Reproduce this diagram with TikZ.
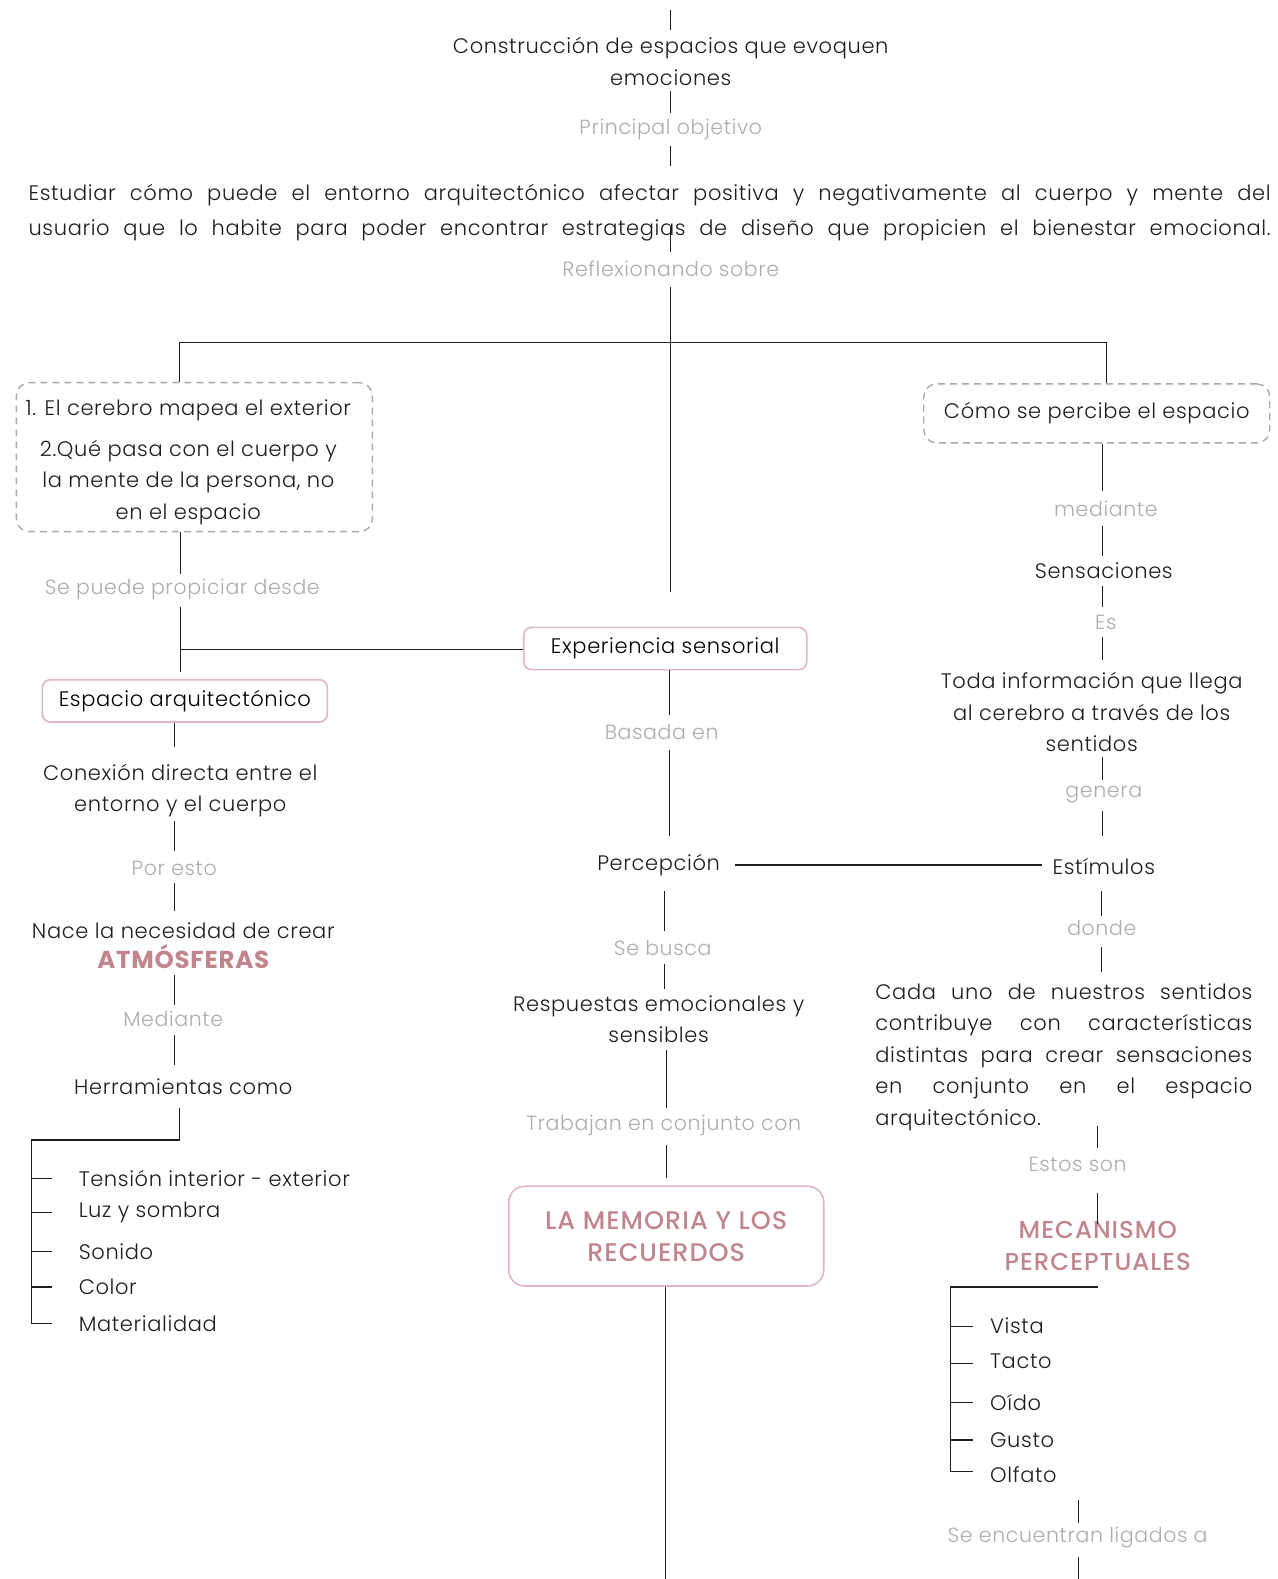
\documentclass[tikz,border=0pt]{standalone}
\usepackage{fontspec}
\IfFontExistsTF{Poppins Light}{\setmainfont{Poppins Light}[LetterSpace=3]}{\setmainfont{Poppins}[LetterSpace=3]}
\newfontfamily\headfont{Poppins}[LetterSpace=3]
\IfFontExistsTF{Poppins Medium}{\newfontfamily\medfont{Poppins Medium}[LetterSpace=4]}{\newfontfamily\medfont{Poppins}[LetterSpace=4]}
\definecolor{pinkt}{HTML}{C0858D}
\definecolor{pinkb}{HTML}{DDB8BD}
\definecolor{lblc}{HTML}{ADADAD}
\definecolor{ink}{HTML}{1E1E1E}
\definecolor{dashc}{HTML}{AAAAAA}
\begin{document}
\begin{tikzpicture}[x=1.0071pt,y=-1.007pt,
  txt/.style={font=\fontsize{21}{31.5}\selectfont, text=ink, align=center, inner sep=2pt},
  lab/.style={font=\fontsize{20.5}{24}\selectfont, text=lblc, inner sep=2pt},
  itm/.style={font=\fontsize{21}{24}\selectfont, text=ink, anchor=west, inner sep=0pt},
  dbox/.style={draw=dashc, dash pattern=on 7pt off 5pt, line width=1.4pt, rounded corners=13pt, align=center, text=ink, font=\fontsize{21}{31.5}\selectfont},
  pbox/.style={draw=pinkb, line width=1.6pt, rounded corners=8pt, align=center, font=\fontsize{21}{31.5}\selectfont},
  ln/.style={draw=ink, line width=1.3pt},
  pinkhead/.style={font=\fontsize{24.5}{31.5}\selectfont\medfont, text=pinkt, align=center}
]
\useasboundingbox[fill=white] (0,0) rectangle (1268,1568);

% ---------- top ----------
\node[txt] (title) at (666,61) {Construcción de espacios que evoquen\\emociones};
\node[lab] (lPrin) at (666,129) {Principal objetivo};
\node[txt,font=\fontsize{21}{35}\selectfont] (para) at (645,211)
  {\makebox[1242pt][s]{Estudiar cómo puede el entorno arquitectónico afectar positiva y negativamente al cuerpo y mente del}\\
   \makebox[1242pt][s]{usuario que lo habite para poder encontrar estrategias de diseño que propicien el bienestar emocional.}};
\node[lab] (lRefl) at (666,267) {Reflexionando sobre};

\coordinate (a0) at (666,10);  \coordinate (a1) at (666,30);
\coordinate (a2) at (666,90);  \coordinate (a3) at (666,112);
\coordinate (a4) at (666,145); \coordinate (a5) at (666,165);
\coordinate (a6) at (666,225); \coordinate (a7) at (666,250);
\coordinate (a8) at (666,285); \coordinate (a9) at (666,588);
\draw[ln] (a0) -- (a1);
\draw[ln] (a2) -- (a3);
\draw[ln] (a4) -- (a5);
\draw[ln] (a6) -- (a7);
\draw[ln] (a8) -- (a9);

% ---------- dashed boxes ----------
\node[dbox, minimum width=356pt, minimum height=149pt] (lbox) at (193,454) {};
\node[txt] (lboxt) at (187,459) {1. El cerebro mapea el exterior\\[9pt]2.Qué pasa con el cuerpo y\\la mente de la persona, no\\en el espacio};
\node[dbox, minimum width=346pt, minimum height=59pt] (rbox) at (1089,410.5) {Cómo se percibe el espacio};
\coordinate (hl) at (178,340); \coordinate (hr) at (1099,340);
\draw[ln] (lbox.north -| hl) -- (hl) -- (hr) -- (rbox.north -| hr);

% ---------- left column ----------
\node[lab] (lSe) at (181,585) {Se puede propiciar desde};
\node[pbox, minimum width=285pt, minimum height=42.3pt] (esp) at (183.5,696) {Espacio arquitectónico};
\node[pbox, minimum width=283pt, minimum height=42.3pt] (exp) at (660.5,644) {Experiencia sensorial};
\coordinate (b1) at (179,570); \coordinate (b2) at (179,603); \coordinate (b3) at (179,667);
\coordinate (bj) at (179,645);
\draw[ln] (lbox.south -| b1) -- (b1);
\draw[ln] (b2) -- (b3);
\draw[ln] (bj) -- (exp.west |- bj);

\node[txt] (conn) at (179,785) {Conexión directa entre el\\entorno y el cuerpo};
\node[lab] (lPor) at (173,862) {Por esto};
\node[txt, font=\fontsize{21}{30}\selectfont] (nace) at (182,939) {Nace la necesidad de crear\\{\fontsize{24.5}{30}\selectfont\headfont\bfseries\color{pinkt}ATMÓSFERAS}};
\node[lab] (lMed) at (172,1012) {Mediante};
\node[txt] (herr) at (182,1079) {Herramientas como};
\coordinate (c0) at (173,742);
\coordinate (c1) at (173,815); \coordinate (c2) at (173,845);
\coordinate (c3) at (173,877); \coordinate (c4) at (173,905);
\coordinate (c5) at (173,968); \coordinate (c6) at (173,998);
\coordinate (c7) at (173,1028); \coordinate (c8) at (173,1058);
\draw[ln] (esp.south -| c0) -- (c0);
\draw[ln] (c1) -- (c2);
\draw[ln] (c3) -- (c4);
\draw[ln] (c5) -- (c6);
\draw[ln] (c7) -- (c8);

\node[itm] (t1) at (78,1170) {Tensión interior - exterior};
\node[itm] (t2) at (78,1204) {Luz y sombra};
\node[itm] (t3) at (78,1243) {Sonido};
\node[itm] (t4) at (78,1278) {Color};
\node[itm] (t5) at (78,1314) {Materialidad};
\coordinate (d0) at (178,1100); \coordinate (d1) at (178,1132);
\coordinate (dl) at (31,1132);
\draw[ln] (d0) -- (d1) -- (dl) -- (dl |- t5.west) -- ++(21,0);
\foreach \i in {t1,t2,t3,t4} \draw[ln] (dl |- \i.west) -- ++(21,0);

% ---------- center column ----------
\node[lab] (lBas) at (657,727) {Basada en};
\node[txt] (perc) at (654,859) {Percepción};
\node[lab] (lBus) at (658,941) {Se busca};
\node[txt] (resp) at (654,1012) {Respuestas emocionales y\\sensibles};
\node[lab] (lTra) at (659,1118) {Trabajan en conjunto con};
\node[pbox, minimum width=315pt, minimum height=99.7pt, rounded corners=16pt, font=\fontsize{25.5}{32}\selectfont] (mem) at (661.5,1227.5)
  {\medfont\color{pinkt}LA MEMORIA Y LOS\\\medfont\color{pinkt}RECUERDOS};
\coordinate (e1) at (665,710); \coordinate (e2) at (665,745); \coordinate (e3) at (665,830);
\coordinate (e4) at (660,885); \coordinate (e5) at (660,925);
\coordinate (e6) at (660,957); \coordinate (e7) at (660,982);
\coordinate (e8) at (662,1043); \coordinate (e9) at (662,1100);
\coordinate (e10) at (662,1137); \coordinate (e11) at (662,1170);
\coordinate (e12) at (661,1568);
\draw[ln] (exp.south -| e1) -- (e1);
\draw[ln] (e2) -- (e3);
\draw[ln] (e4) -- (e5);
\draw[ln] (e6) -- (e7);
\draw[ln] (e8) -- (e9);
\draw[ln] (e10) -- (e11);
\draw[ln] (mem.south -| e12) -- (e12);

% ---------- right column ----------
\node[lab] (lmedi) at (1098,505) {mediante};
\node[txt] (sens) at (1096,567) {Sensaciones};
\node[lab] (lEs) at (1098,618) {Es};
\node[txt] (toda) at (1084,707) {Toda información que llega\\al cerebro a través de los\\sentidos};
\node[lab] (lgen) at (1096,789) {genera};
\node[txt] (estim) at (1096,860) {Estímulos};
\node[lab] (ldon) at (1094,922) {donde};
\node[txt, align=left, anchor=west] (cada) at (867,1049.5)
  {\makebox[377pt][s]{Cada uno de nuestros sentidos}\\
   \makebox[377pt][s]{contribuye con características}\\
   \makebox[377pt][s]{distintas para crear sensaciones}\\
   \makebox[377pt][s]{en conjunto en el espacio}\\
   arquitectónico.};
\node[lab] (lEst) at (1070,1156) {Estos son};
\node[pinkhead] (mec) at (1090,1237.5) {MECANISMO\\PERCEPTUALES};
\coordinate (f1) at (1095,488); \coordinate (f2) at (1095,522); \coordinate (f3) at (1095,552);
\coordinate (f4) at (1095,582); \coordinate (f5) at (1095,603);
\coordinate (f6) at (1095,633); \coordinate (f7) at (1095,655);
\coordinate (f8) at (1095,752); \coordinate (f9) at (1095,775);
\coordinate (f10) at (1095,805); \coordinate (f11) at (1095,830);
\coordinate (f12) at (1094,885); \coordinate (f13) at (1094,910);
\coordinate (f14) at (1094,940); \coordinate (f15) at (1094,965);
\coordinate (f16) at (1090,1118); \coordinate (f17) at (1090,1140);
\coordinate (f18) at (1090,1185); \coordinate (f19) at (1090,1215);
\draw[ln] (rbox.south -| f1) -- (f1);
\draw[ln] (f2) -- (f3);
\draw[ln] (f4) -- (f5);
\draw[ln] (f6) -- (f7);
\draw[ln] (f8) -- (f9);
\draw[ln] (f10) -- (f11);
\draw[ln] (f12) -- (f13);
\draw[ln] (f14) -- (f15);
\draw[ln] (f16) -- (f17);
\draw[ln] (f18) -- (f19);
\coordinate (pe) at (730,859); \coordinate (pf) at (1035,859);
\draw[ln] (pe) -- (pf);

\node[itm] (v1) at (983,1316) {Vista};
\node[itm] (v2) at (983,1352) {Tacto};
\node[itm] (v3) at (983,1393) {Oído};
\node[itm] (v4) at (983,1430) {Gusto};
\node[itm] (v5) at (983,1464) {Olfato};
\coordinate (g0) at (1090,1278); \coordinate (gl) at (944,1278);
\coordinate (gb) at (944,1461);
\draw[ln] (g0) -- (gl) -- (gb) -- ++(22,0);
\foreach \y in {1317,1354,1393,1430} \draw[ln] (gl |- 0,\y) -- ++(22,0);

\node[lab] (lLig) at (1070,1527) {Se encuentran ligados a};
\coordinate (h1) at (1071,1490); \coordinate (h2) at (1071,1512);
\coordinate (h3) at (1071,1546); \coordinate (h4) at (1071,1568);
\draw[ln] (h1) -- (h2);
\draw[ln] (h3) -- (h4);
\end{tikzpicture}
\end{document}
